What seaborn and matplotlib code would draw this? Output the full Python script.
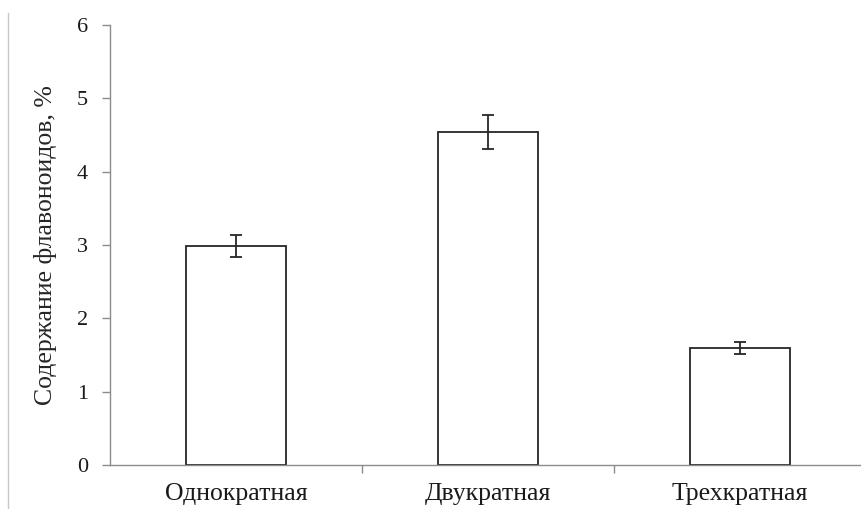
import matplotlib
matplotlib.use("Agg")
import matplotlib.pyplot as plt
import seaborn as sns
import pandas as pd
from matplotlib.lines import Line2D
from matplotlib.ticker import FixedLocator

# Values
categories = ["Однократная", "Двукратная", "Трехкратная"]
values = [2.98, 4.54, 1.60]
errors = [0.15, 0.23, 0.08]

df = pd.DataFrame({"Экстракция": categories, "Флавоноиды": values})

sns.set_theme(style="white")
plt.rcParams["font.family"] = ["Liberation Serif", "DejaVu Serif"]

fig = plt.figure(figsize=(8.61, 5.09), dpi=100)
ax = fig.add_axes([110 / 861, 44 / 509, 756 / 861, 440 / 509])

sns.barplot(
    data=df,
    x="Экстракция",
    y="Флавоноиды",
    color="white",
    edgecolor="#262626",
    linewidth=1.3,
    width=0.4,
    errorbar=None,
    ax=ax,
)
ax.errorbar(
    x=range(len(categories)),
    y=values,
    yerr=errors,
    fmt="none",
    ecolor="#262626",
    elinewidth=1.3,
    capsize=4.5,
    capthick=1.3,
)

ax.set_xlim(-0.5, 2.5)
ax.set_ylim(0, 6)
ax.set_yticks(range(0, 7))
ax.set_xlabel("")
ax.set_ylabel("Содержание флавоноидов, %", fontsize=18.5, labelpad=14)

ax.tick_params(axis="y", which="major", length=6, width=1, color="#8c8c8c",
               direction="out", left=True, pad=10, labelsize=16, labelcolor="#1a1a1a")
ax.tick_params(axis="x", which="major", length=0, pad=13, labelsize=18.5,
               labelcolor="#1a1a1a")
ax.xaxis.set_minor_locator(FixedLocator([0.5, 1.5]))
ax.tick_params(axis="x", which="minor", length=6, width=1, color="#8c8c8c",
               direction="out", bottom=True)

for side in ["top", "right"]:
    ax.spines[side].set_visible(False)
for side in ["left", "bottom"]:
    ax.spines[side].set_color("#8c8c8c")
    ax.spines[side].set_linewidth(1)

# thin frame line on the left edge of the chart area
fig.add_artist(Line2D([7.5 / 861, 7.5 / 861], [0, 1 - 13 / 509],
                      color="#c8c8c8", linewidth=1))

fig.savefig("out.png", dpi=100)
plt.close(fig)
